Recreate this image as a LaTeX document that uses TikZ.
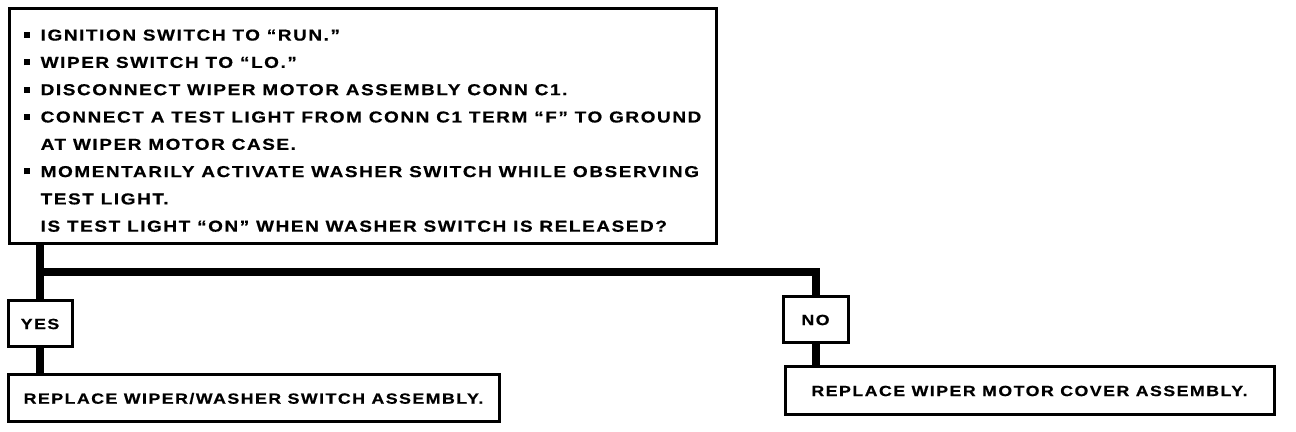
\documentclass[tikz,border=0pt]{standalone}
\usepackage{fontspec}
\setmainfont{Liberation Sans}[FakeStretch=1.2,LetterSpace=10,FakeBold=0.6]
\newcommand{\bul}{\makebox[8.5pt][l]{\rule[1.3pt]{3pt}{3pt}}}
\newcommand{\ind}{\hspace*{8.5pt}}
\begin{document}
\begin{tikzpicture}[x=0.5pt,y=-0.5pt,
  font=\fontsize{7.4}{13.65}\selectfont\bfseries,
  box/.style={draw, line width=1.5pt, rectangle, inner sep=0pt},
  conn/.style={line width=4pt, line join=miter, line cap=butt}]
\useasboundingbox (0,0) rectangle (1296,432);
\node[box, minimum width=353.5pt, minimum height=117.5pt, align=left,
  font=\fontsize{7.9}{13.65}\selectfont\bfseries] (main) at (362.5,126.5)
{\rule{0pt}{9.7pt}\bul IGNITION SWITCH TO “RUN.”\\
\bul WIPER SWITCH TO “LO.”\\
\bul DISCONNECT WIPER MOTOR ASSEMBLY CONN C1.\\
\bul CONNECT A TEST LIGHT FROM CONN C1 TERM “F” TO GROUND\\
\ind AT WIPER MOTOR CASE.\\
\bul MOMENTARILY ACTIVATE WASHER SWITCH WHILE OBSERVING\\
\ind TEST LIGHT.\\
\ind IS TEST LIGHT “ON” WHEN WASHER SWITCH IS RELEASED?};
\node[box, minimum width=32pt, minimum height=23pt] (yes) at (40,324) {YES};
\node[box, minimum width=32.5pt, minimum height=23pt] (no) at (815.5,320) {NO};
\node[box, minimum width=245.5pt, minimum height=23.5pt] (leftrep) at (253.5,398.5) {REPLACE WIPER/WASHER SWITCH ASSEMBLY.};
\node[box, minimum width=244.5pt, minimum height=24pt] (rightrep) at (1029.5,391) {REPLACE WIPER MOTOR COVER ASSEMBLY.};
\coordinate (j) at (40,272);
\draw[conn] (main.south -| yes.north) -- (yes.north);
\draw[conn] (j) -- (j -| no.north) -- (no.north);
\draw[conn] (yes.south) -- (yes.south |- leftrep.north);
\draw[conn] (no.south) -- (no.south |- rightrep.north);
\end{tikzpicture}
\end{document}
